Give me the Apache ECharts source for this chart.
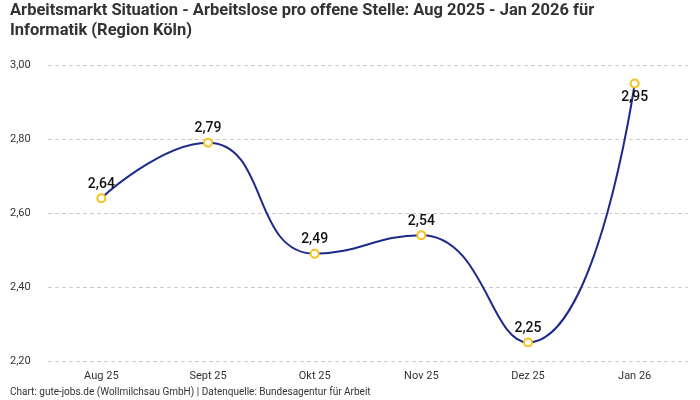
<!DOCTYPE html>
<html>
<head>
<meta charset="utf-8">
<script src="https://cdn.jsdelivr.net/npm/echarts@6/dist/echarts.min.js"></script>
<style>
	html, body { margin: 0; padding: 0; background: #fff; }
	#chart { width: 700px; height: 400px; }
</style>
</head>
<body>
<div id="chart"></div>
<script>
var monate = ['Aug 25', 'Sept 25', 'Okt 25', 'Nov 25', 'Dez 25', 'Jan 26'];
var werte = [2.64, 2.79, 2.49, 2.54, 2.25, 2.95];

var schrift = '"Roboto", sans-serif';
var chart = echarts.init(document.getElementById('chart'));

function komma(v) {
	return v.toFixed(2).replace('.', ',');
}

var punkte = [];
for(var i = 0; i < werte.length; i++) {
	var p = { value: werte[i] };
	// letzter Punkt: Label unter dem Marker
	if(i === werte.length - 1) {
		p.label = { position: 'bottom', distance: 2 };
	}
	punkte.push(p);
}

var option = {
	backgroundColor: '#fff',
	textStyle: { fontFamily: schrift },
	title: {
		text: 'Arbeitsmarkt Situation - Arbeitslose pro offene Stelle: Aug 2025 - Jan 2026 für\nInformatik (Region Köln)',
		left: 10,
		top: 1,
		padding: 0,
		textStyle: {
			fontFamily: schrift,
			fontSize: 16.5,
			fontWeight: 'bold',
			color: '#333',
			lineHeight: 20
		}
	},
	graphic: [{
		type: 'text',
		left: 10,
		top: 387,
		style: {
			text: 'Chart: gute-jobs.de (Wollmilchsau GmbH) | Datenquelle: Bundesagentur für Arbeit',
			fontFamily: schrift,
			fontSize: 10,
			fill: '#333'
		}
	}],
	grid: {
		left: 48,
		right: 12,
		top: 65,
		bottom: 39,
		containLabel: false
	},
	xAxis: {
		type: 'category',
		data: monate,
		boundaryGap: true,
		axisLine: { show: false },
		axisTick: { show: false },
		axisLabel: { color: '#333', fontSize: 11, margin: 10 }
	},
	yAxis: {
		type: 'value',
		min: 2.2,
		max: 3.0,
		interval: 0.2,
		axisLine: { show: false },
		axisTick: { show: false },
		axisLabel: {
			color: '#333',
			fontSize: 11,
			align: 'left',
			margin: 38,
			formatter: function(v) { return komma(v); }
		},
		splitLine: {
			lineStyle: { color: '#ccc', type: [4, 3], width: 1 }
		}
	},
	series: [{
		type: 'line',
		data: punkte,
		smooth: 0.5,
		symbol: 'circle',
		symbolSize: 8,
		lineStyle: { color: '#1c2a8c', width: 2 },
		itemStyle: { color: '#fff', borderColor: '#f7c21b', borderWidth: 2 },
		label: {
			show: true,
			position: 'top',
			distance: 2,
			color: '#111',
			fontSize: 14,
			fontWeight: 500,
			fontFamily: schrift,
			formatter: function(p) { return komma(p.value); }
		}
	}]
};

chart.setOption(option);
</script>
</body>
</html>
